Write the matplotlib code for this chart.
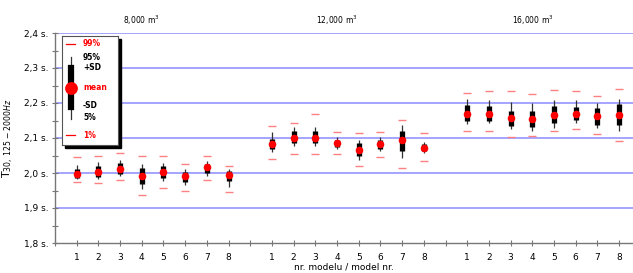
import matplotlib.pyplot as plt
from matplotlib.patches import Rectangle

# model groups (room volume) and model numbers
groups = ["8,000 m$^3$", "12,000 m$^3$", "16,000 m$^3$"]
models = [1, 2, 3, 4, 5, 6, 7, 8]

# T30 statistics per model (s)
mean = [1.998, 2.003, 2.011, 1.991, 2.003, 1.991, 2.016, 1.995,
        2.082, 2.100, 2.100, 2.085, 2.067, 2.082, 2.093, 2.072,
        2.170, 2.170, 2.157, 2.155, 2.167, 2.170, 2.162, 2.167]
sd_hi = [2.011, 2.021, 2.028, 2.013, 2.020, 2.003, 2.026, 2.007,
         2.097, 2.120, 2.120, 2.094, 2.087, 2.094, 2.121, 2.083,
         2.194, 2.191, 2.178, 2.178, 2.191, 2.188, 2.186, 2.196]
sd_lo = [1.986, 1.990, 1.997, 1.968, 1.987, 1.973, 2.001, 1.978,
         2.069, 2.085, 2.085, 2.073, 2.050, 2.069, 2.064, 2.064,
         2.148, 2.150, 2.133, 2.132, 2.142, 2.152, 2.138, 2.136]
p95 = [2.023, 2.032, 2.037, 2.026, 2.030, 2.011, 2.033, 2.011,
       2.116, 2.131, 2.131, 2.102, 2.094, 2.102, 2.138, 2.090,
       2.211, 2.209, 2.202, 2.200, 2.210, 2.209, 2.200, 2.211]
p5 = [1.982, 1.983, 1.991, 1.953, 1.978, 1.967, 1.991, 1.961,
      2.059, 2.077, 2.077, 2.069, 2.037, 2.063, 2.044, 2.058,
      2.140, 2.142, 2.126, 2.121, 2.130, 2.144, 2.128, 2.119]
p99 = [2.046, 2.049, 2.058, 2.048, 2.048, 2.026, 2.048, 2.019,
       2.134, 2.143, 2.168, 2.116, 2.113, 2.118, 2.152, 2.115,
       2.230, 2.233, 2.235, 2.227, 2.237, 2.234, 2.220, 2.240]
p1 = [1.973, 1.971, 1.980, 1.936, 1.956, 1.950, 1.979, 1.945,
      2.039, 2.053, 2.053, 2.054, 2.020, 2.046, 2.013, 2.035,
      2.120, 2.119, 2.104, 2.106, 2.119, 2.126, 2.112, 2.092]

# x positions: 8 models per group, one empty slot between groups
pos = []
for g in range(len(groups)):
    pos += [g * 9 + m for m in models]

fig = plt.figure(figsize=(6.33, 2.73), dpi=100)
ax = fig.add_axes([55 / 633, 1 - 243 / 273, 1 - 55 / 633, 210 / 273])

ax.set_xlim(0, 26.64)
ax.set_ylim(1.8, 2.4)

# grid lines
for yv in [1.9, 2.0, 2.1, 2.2, 2.3, 2.4]:
    ax.axhline(yv, color="#8c8cff", lw=1.1, zorder=0)

ax.vlines(pos, p5, p95, color="#333333", lw=0.9, zorder=2)
ax.vlines(pos, sd_lo, sd_hi, color="black", lw=3.8, zorder=3)
ax.scatter(pos, mean, s=30, color="red", zorder=4, linewidths=0)
ax.scatter(pos, p99, marker="_", s=30, color="#ff8080", lw=1.0, zorder=2)
ax.scatter(pos, p1, marker="_", s=30, color="#ff8080", lw=1.0, zorder=2)

# axes styling
for side in ["top", "right"]:
    ax.spines[side].set_visible(False)
for side in ["left", "bottom"]:
    ax.spines[side].set_color("#777777")
    ax.spines[side].set_linewidth(1.0)

ax.set_yticks([1.8, 1.9, 2.0, 2.1, 2.2, 2.3, 2.4])
ax.set_yticklabels(["1,8 s.", "1,9 s.", "2,0 s.", "2,1 s.", "2,2 s.", "2,3 s.", "2,4 s."])
ax.set_yticks([1.85, 1.95, 2.05, 2.15, 2.25, 2.35], minor=True)
ax.set_xticks(pos)
ax.set_xticklabels([str(m) for m in models] * len(groups))
ax.set_xticks([0, 9, 18], minor=True)
ax.tick_params(axis="both", which="both", color="#777777", labelsize=6.5,
               length=3, width=0.8)
ax.tick_params(axis="x", which="both", direction="inout", length=5, pad=5)
ax.tick_params(axis="y", which="both", direction="inout", length=5, pad=2)

ax.set_xlabel("nr. modelu / model nr.", fontsize=6.5, labelpad=0)
ax.set_ylabel("T$_{30,\\;125-2000Hz}$", fontsize=8, labelpad=6)

# group titles
for g, name in enumerate(groups):
    ax.text(g * 9 + 4.0, 2.435, name, ha="center", va="center", fontsize=5.5)

# hand-drawn legend box with shadow
lx, ly, lw_, lh = 62 / 633, 1 - 145 / 273, 56 / 633, 109 / 273
fig.patches.append(Rectangle((lx + 3 / 633, ly - 3 / 273), lw_, lh,
                             transform=fig.transFigure, color="black", zorder=5))
lax = fig.add_axes([lx, ly, lw_, lh], zorder=6)
lax.set_xlim(0, 56)
lax.set_ylim(109, 0)
lax.set_xticks([])
lax.set_yticks([])
for s in lax.spines.values():
    s.set_color("#555555")
    s.set_linewidth(0.8)
lax.plot([4, 13], [8, 8], color="red", lw=0.9)
lax.plot([4, 13], [99, 99], color="red", lw=0.9)
lax.plot([9, 9], [21, 83], color="#333333", lw=0.9)
lax.plot([9, 9], [32, 71], color="black", lw=4.5)
lax.scatter([9], [52], s=85, color="red", zorder=3, linewidths=0)
items = [(8, "99%", "red"), (22, "95%", "black"), (32, "+SD", "black"),
         (52, "mean", "red"), (70, "-SD", "black"), (82, "5%", "black"),
         (99, "1%", "red")]
for yy, txt, col in items:
    lax.text(21, yy, txt, color=col, fontsize=5.5, fontweight="bold",
             va="center", ha="left")

fig.savefig("out.png", dpi=100)
